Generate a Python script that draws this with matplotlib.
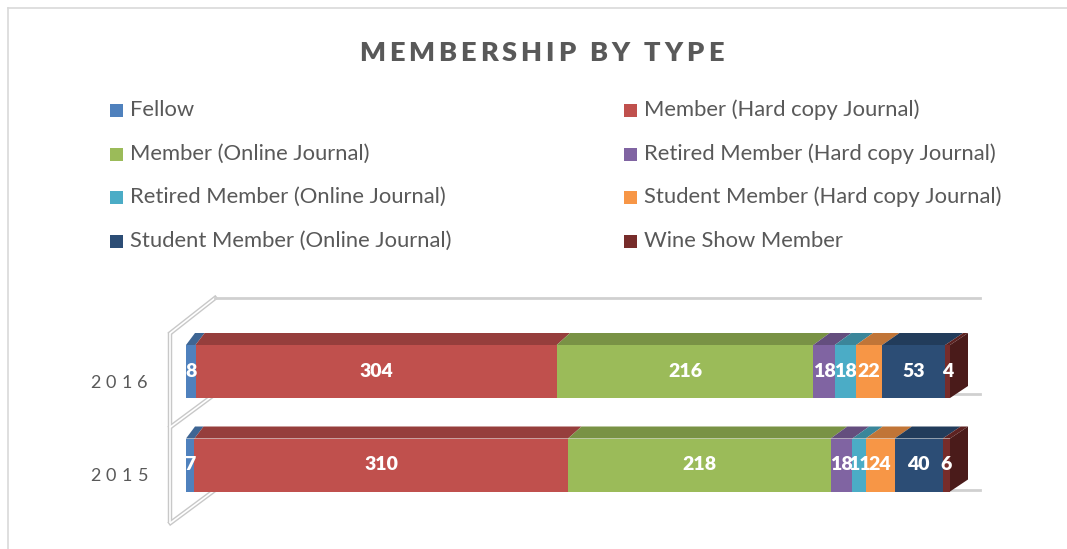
import matplotlib
matplotlib.use('Agg')
import matplotlib.pyplot as plt
from matplotlib.patches import Polygon, Rectangle
from matplotlib.lines import Line2D
from matplotlib.colors import to_rgb
import numpy as np

# ---------------- data ----------------
years = ['2015', '2016']
series = ['Fellow', 'Member (Hard copy Journal)', 'Member (Online Journal)',
          'Retired Member (Hard copy Journal)', 'Retired Member (Online Journal)',
          'Student Member (Hard copy Journal)', 'Student Member (Online Journal)',
          'Wine Show Member']
values_2015 = [7, 310, 218, 18, 11, 24, 40, 6]
values_2016 = [8, 304, 216, 18, 18, 22, 53, 4]
colors = ['#4F81BD', '#C0504D', '#9BBB59', '#8064A2', '#4BACC6', '#F79646',
          '#2C4D75', '#772C2A']
title = 'MEMBERSHIP BY TYPE'

W, H = 1067, 549
TXT = '#595959'
FONT = 'Lato'
plt.rcParams['font.family'] = [FONT, 'DejaVu Sans']

fig = plt.figure(figsize=(W / 100, H / 100), dpi=100)
fig.patch.set_facecolor('white')

# chart border
fig.add_artist(Line2D([8 / W, 8 / W], [0, 1 - 8 / H], color='#D9D9D9', lw=1.2))
fig.add_artist(Line2D([8 / W, 1], [1 - 8 / H, 1 - 8 / H], color='#D9D9D9', lw=1.2))

renderer = fig.canvas.get_renderer()


def char_width(ch, **kw):
    t1 = fig.text(0, 0, '|' + ch + '|', **kw)
    t2 = fig.text(0, 0, '||', **kw)
    w = t1.get_window_extent(renderer).width - t2.get_window_extent(renderer).width
    t1.remove()
    t2.remove()
    return w


def spaced_text(xc, y, s, spacing, ha='center', **kw):
    widths = [char_width(ch, **kw) for ch in s]
    total = sum(widths) + spacing * (len(s) - 1)
    x = xc - total / 2 if ha == 'center' else xc - total
    for ch, w in zip(s, widths):
        if ch != ' ':
            fig.text(x / W, 1 - y / H, ch, ha='left', va='center', **kw)
        x += w + spacing


# title
spaced_text(541, 53, title, 4.0, fontsize=19.5, fontweight='heavy', color=TXT,
            family=FONT)

# legend (row-major, two columns)
col_x = [110, 624]
row_y = [110, 154, 197, 241]
for k, (name, c) in enumerate(zip(series, colors)):
    cx = col_x[k % 2]
    cy = row_y[k // 2]
    fig.add_artist(Rectangle((cx / W, 1 - (cy + 7) / H), 13 / W, 13 / H,
                             facecolor=c, edgecolor='none',
                             transform=fig.transFigure))
    fig.text((cx + 20) / W, 1 - cy / H, name, ha='left', va='center',
             fontsize=15.8, color=TXT, family=FONT)

# ---------------- plot axes ----------------
X0, X100 = 186.0, 950.0          # pixel for 0% and 100%
ppx = (X100 - X0) / 100.0
Y0, Y1 = 465.0, 371.5            # pixel of category 0 and 1
ppy = Y0 - Y1
axl, axr, axt, axb = 150, 1000, 285, 535
ax = fig.add_axes([axl / W, 1 - axb / H, (axr - axl) / W, (axb - axt) / H])
ax.set_xlim((axl - X0) / ppx, (axr - X0) / ppx)
ax.set_ylim((Y0 - axb) / ppy, (Y0 - axt) / ppy)
ax.axis('off')

bar_h = 53 / ppy
dy = 12 / ppy
dxl, dxr = 9 / ppx, 18 / ppx


def back(x):
    return x + dxl + (dxr - dxl) * x / 100.0


def dark(c, f=0.75):
    r, g, b = to_rgb(c)
    return (r * f, g * f, b * f)


# walls (left wall and back gridlines)
wf = -1.83 - 0.2
wb = 3.80
front_y = [-0.62, 0.406, 1.412]
back_y = [-0.267, 0.759, 1.786]
wall_col = '#C8C8C8'
for lw, col in [(3.2, wall_col), (1.2, 'white')]:
    ax.plot([wf, wf], [front_y[0], front_y[2]], color=col, lw=lw, zorder=1,
            solid_capstyle='butt')
    for fy, by in zip(front_y, back_y):
        ax.plot([wf, wb], [fy, by], color=col, lw=lw, zorder=1)
for by in back_y:
    ax.plot([wb, (980 - X0) / ppx], [by, by], color='#D0D0D0', lw=2.0,
            zorder=1)

# bars
for i, vals in enumerate([values_2015, values_2016]):
    vals = np.array(vals, dtype=float)
    pct = vals / vals.sum() * 100
    left = np.cumsum(pct) - pct
    ax.barh(i, pct, left=left, height=bar_h, color=colors, zorder=3,
            linewidth=0)
    ytop = i + bar_h / 2
    ybot = i - bar_h / 2
    for l, p, c, v in zip(left, pct, colors, vals):
        r = l + p
        ax.add_patch(Polygon([(l, ytop), (r, ytop), (back(r), ytop + dy),
                              (back(l), ytop + dy)], closed=True,
                             facecolor=dark(c, 0.78), edgecolor='none',
                             zorder=2))
        ax.text(l + p / 2, i, '%d' % v, ha='center', va='center',
                color='white', fontsize=14, fontweight='heavy', zorder=5)
    end = left[-1] + pct[-1]
    ax.add_patch(Polygon([(end, ybot), (end, ytop), (back(end), ytop + dy),
                          (back(end), ybot + dy)], closed=True,
                         facecolor=dark(colors[-1], 0.62), edgecolor='none',
                         zorder=2))

# category labels
for i, y in enumerate(years):
    ypx = Y0 - i * ppy + 11
    spaced_text(148, ypx, y, 5.5, ha='right', fontsize=13, color=TXT,
                family=FONT)

fig.savefig('out.png', dpi=100)
